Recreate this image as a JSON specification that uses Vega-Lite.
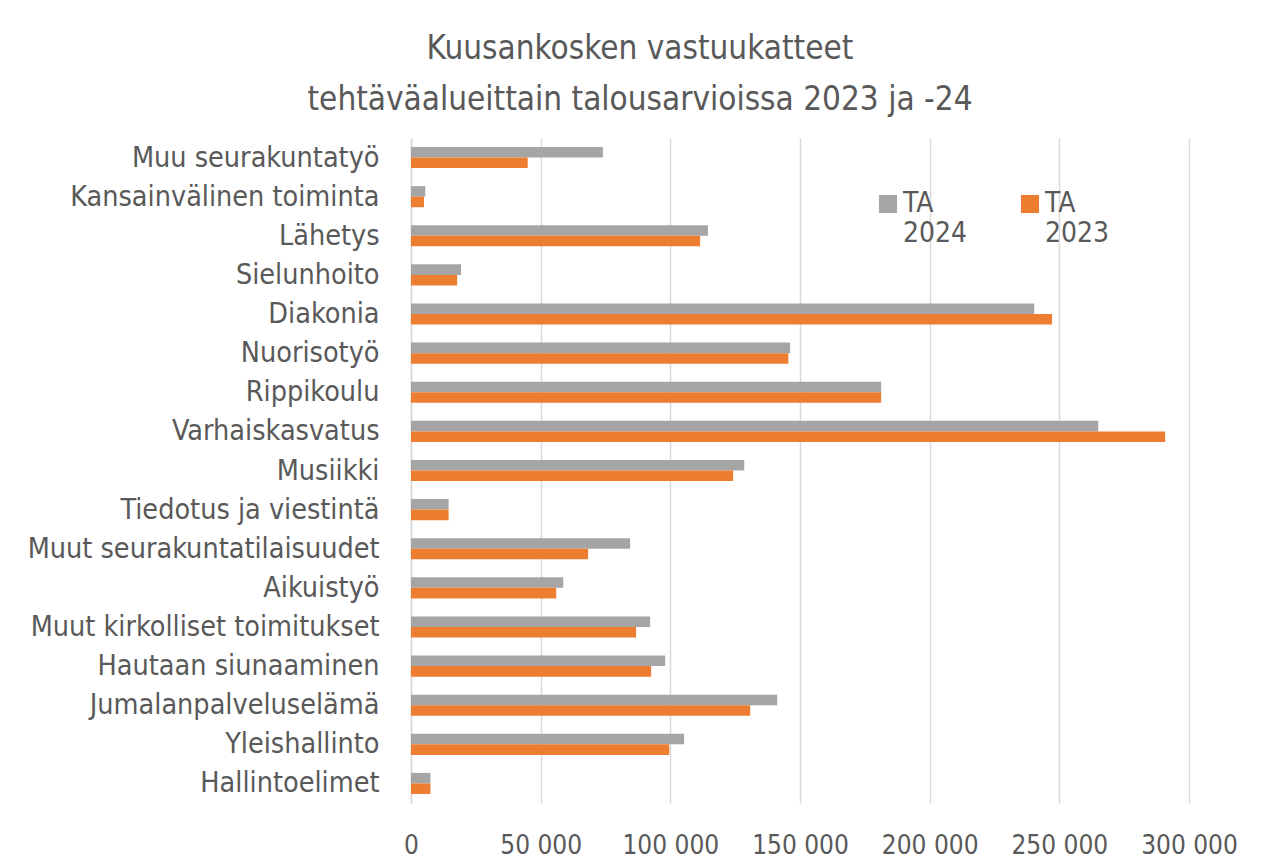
{
  "$schema": "https://vega.github.io/schema/vega-lite/v6.json",
  "autosize": "none",
  "width": 778,
  "height": 665,
  "padding": {"left": 411, "top": 138, "right": 75, "bottom": 64},
  "background": "white",
  "title": {
    "text": ["Kuusankosken vastuukatteet", "tehtäväalueittain talousarvioissa 2023 ja -24"],
    "anchor": "middle",
    "dx": -160,
    "offset": 21,
    "fontSize": 33,
    "fontWeight": "normal",
    "font": "DejaVu Sans Condensed, sans-serif",
    "color": "#595959",
    "lineHeight": 51
  },
  "data": {
    "values": [
      {"cat": "Muu seurakuntatyö", "series": "TA 2024", "value": 74000},
      {"cat": "Muu seurakuntatyö", "series": "TA 2023", "value": 45000},
      {"cat": "Kansainvälinen toiminta", "series": "TA 2024", "value": 5500},
      {"cat": "Kansainvälinen toiminta", "series": "TA 2023", "value": 5000},
      {"cat": "Lähetys", "series": "TA 2024", "value": 114500},
      {"cat": "Lähetys", "series": "TA 2023", "value": 111500},
      {"cat": "Sielunhoito", "series": "TA 2024", "value": 19300},
      {"cat": "Sielunhoito", "series": "TA 2023", "value": 17800},
      {"cat": "Diakonia", "series": "TA 2024", "value": 240300},
      {"cat": "Diakonia", "series": "TA 2023", "value": 247200},
      {"cat": "Nuorisotyö", "series": "TA 2024", "value": 146200},
      {"cat": "Nuorisotyö", "series": "TA 2023", "value": 145500},
      {"cat": "Rippikoulu", "series": "TA 2024", "value": 181300},
      {"cat": "Rippikoulu", "series": "TA 2023", "value": 181300},
      {"cat": "Varhaiskasvatus", "series": "TA 2024", "value": 265000},
      {"cat": "Varhaiskasvatus", "series": "TA 2023", "value": 290800},
      {"cat": "Musiikki", "series": "TA 2024", "value": 128500},
      {"cat": "Musiikki", "series": "TA 2023", "value": 124200},
      {"cat": "Tiedotus ja viestintä", "series": "TA 2024", "value": 14500},
      {"cat": "Tiedotus ja viestintä", "series": "TA 2023", "value": 14500},
      {"cat": "Muut seurakuntatilaisuudet", "series": "TA 2024", "value": 84500},
      {"cat": "Muut seurakuntatilaisuudet", "series": "TA 2023", "value": 68300},
      {"cat": "Aikuistyö", "series": "TA 2024", "value": 58700},
      {"cat": "Aikuistyö", "series": "TA 2023", "value": 56000},
      {"cat": "Muut kirkolliset toimitukset", "series": "TA 2024", "value": 92200},
      {"cat": "Muut kirkolliset toimitukset", "series": "TA 2023", "value": 86800},
      {"cat": "Hautaan siunaaminen", "series": "TA 2024", "value": 98000},
      {"cat": "Hautaan siunaaminen", "series": "TA 2023", "value": 92600},
      {"cat": "Jumalanpalveluselämä", "series": "TA 2024", "value": 141200},
      {"cat": "Jumalanpalveluselämä", "series": "TA 2023", "value": 130800},
      {"cat": "Yleishallinto", "series": "TA 2024", "value": 105300},
      {"cat": "Yleishallinto", "series": "TA 2023", "value": 99600},
      {"cat": "Hallintoelimet", "series": "TA 2024", "value": 7500},
      {"cat": "Hallintoelimet", "series": "TA 2023", "value": 7500}
    ]
  },
  "mark": {"type": "bar"},
  "encoding": {
    "y": {
      "field": "cat",
      "type": "nominal",
      "sort": null,
      "scale": {"paddingInner": 0.46, "paddingOuter": 0.23},
      "axis": {
        "title": null,
        "ticks": false,
        "domain": true,
        "domainColor": "#D9D9D9",
        "domainWidth": 1.5,
        "labelPadding": 32,
        "labelFontSize": 28.5,
        "labelColor": "#595959",
        "labelFont": "DejaVu Sans Condensed, sans-serif",
        "labelLimit": 500
      }
    },
    "yOffset": {
      "field": "series",
      "type": "nominal",
      "sort": ["TA 2024", "TA 2023"],
      "scale": {"paddingInner": 0, "paddingOuter": 0}
    },
    "x": {
      "field": "value",
      "type": "quantitative",
      "scale": {"domain": [0, 300000], "nice": false},
      "axis": {
        "title": null,
        "values": [0, 50000, 100000, 150000, 200000, 250000, 300000],
        "labelExpr": "replace(format(datum.value, ','), ',', ' ')",
        "ticks": false,
        "domain": false,
        "grid": true,
        "gridColor": "#D9D9D9",
        "gridWidth": 1.5,
        "labelPadding": 29,
        "labelFontSize": 26,
        "labelColor": "#595959",
        "labelFont": "DejaVu Sans Condensed, sans-serif",
        "labelFlush": false
      }
    },
    "color": {
      "field": "series",
      "type": "nominal",
      "scale": {"domain": ["TA 2024", "TA 2023"], "range": ["#A5A5A5", "#ED7D31"]},
      "legend": {
        "title": null,
        "orient": "none",
        "legendX": 463,
        "legendY": 52,
        "direction": "horizontal",
        "columns": 2,
        "columnPadding": 48,
        "symbolType": "square",
        "symbolSize": 324,
        "symbolStrokeWidth": 0,
        "symbolOpacity": 1,
        "labelExpr": "split(datum.label, ' ')",
        "labelBaseline": "middle",
        "labelFontSize": 28,
        "labelColor": "#595959",
        "labelFont": "DejaVu Sans Condensed, sans-serif",
        "labelOffset": 1,
        "labelLimit": 200
      }
    }
  },
  "config": {
    "view": {"stroke": null},
    "text": {"lineHeight": 30}
  }
}
